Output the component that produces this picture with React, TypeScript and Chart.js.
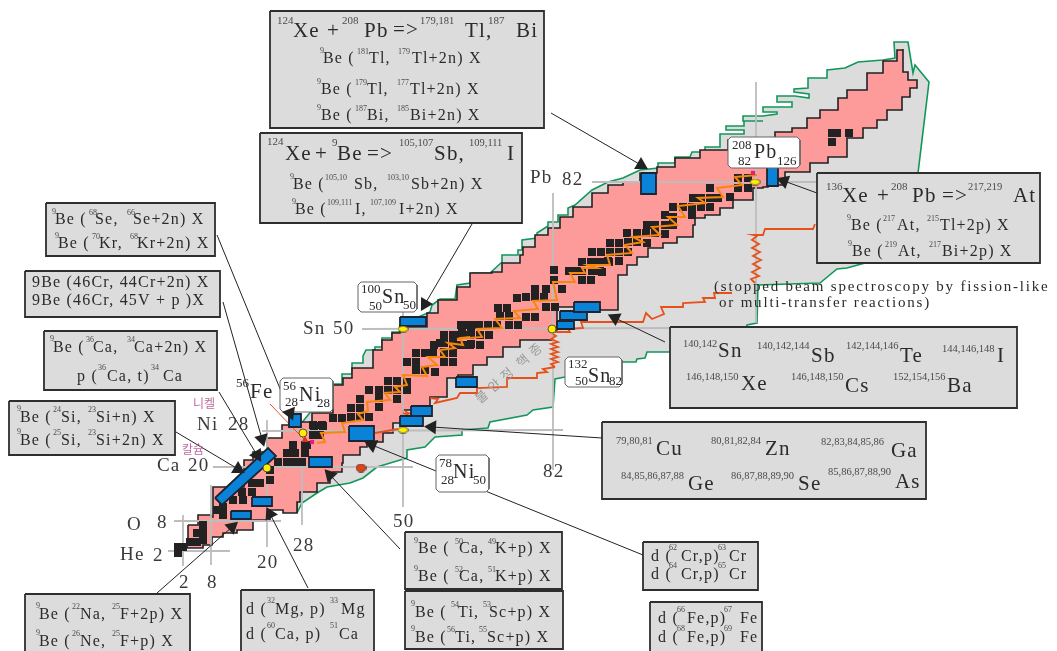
import React, { useEffect, useRef } from "react";
import { Chart, registerables } from "chart.js";
Chart.register(...registerables);

type P = [number, number];
type T = [number, number, number, string, number?, number?];

const GRAY_REGION: P[] = [[297,513],[300,425],[333,384],[342,384],[342,374],[352,374],[352,363],[363,363],[363,356],[366,350],[375,350],[375,347],[382,347],[382,338],[392,338],[392,332],[400,332],[400,325],[430,312],[432,305],[440,299],[455,299],[457,285],[470,283],[472,273],[490,273],[502,262],[502,255],[518,255],[518,250],[522,250],[522,240],[537,238],[537,233],[548,226],[548,222],[558,222],[558,215],[568,215],[568,208],[575,205],[592,190],[608,182],[623,178],[640,170],[658,168],[658,163],[675,163],[675,157],[690,157],[692,152],[705,152],[705,147],[720,147],[720,134],[744,134],[744,130],[726,130],[726,126],[744,126],[744,121],[763,121],[743,121],[743,116],[763,116],[777,114],[777,112],[763,112],[763,107],[792,107],[792,102],[777,102],[777,96],[795,96],[809,98],[809,94],[794,92],[794,89],[808,88],[808,78],[827,78],[827,70],[845,68],[858,62],[883,60],[895,58],[894,42],[908,42],[913,73],[915,65],[929,82],[918,173],[895,250],[865,263],[847,268],[837,269],[820,283],[758,285],[757,323],[747,325],[745,332],[669,352],[647,352],[645,358],[637,359],[636,362],[623,362],[565,377],[555,379],[553,407],[533,410],[527,415],[490,422],[488,428],[462,430],[462,435],[435,437],[425,447],[407,450],[407,458],[377,467],[363,478],[350,483],[327,487],[317,493],[302,503],[297,513]];

const PINK_REGION: P[] = [[188,525],[198,515],[211,517],[213,487],[227,487],[244,460],[253,452],[267,438],[282,425],[290,422],[312,413],[333,405],[333,385],[343,378],[352,368],[373,350],[382,347],[382,340],[392,333],[400,327],[427,313],[438,300],[457,293],[457,287],[470,283],[470,273],[492,272],[502,263],[520,255],[523,247],[535,235],[548,228],[560,217],[573,207],[592,193],[608,185],[623,182],[640,173],[657,167],[675,158],[700,150],[728,140],[775,132],[792,128],[807,118],[820,110],[838,98],[847,90],[867,73],[883,61],[897,58],[897,50],[903,49],[903,72],[908,80],[917,82],[917,88],[910,97],[902,110],[887,120],[877,128],[863,138],[847,145],[847,157],[828,163],[810,172],[785,185],[768,187],[763,188],[753,200],[733,208],[720,215],[705,218],[695,225],[693,237],[677,243],[663,248],[648,257],[637,265],[627,275],[618,282],[618,310],[600,307],[557,330],[553,340],[533,340],[520,347],[503,357],[487,365],[473,375],[458,378],[447,397],[430,410],[403,423],[393,433],[383,442],[367,447],[360,455],[343,463],[342,472],[333,473],[330,483],[317,492],[300,502],[297,513],[283,510],[277,510],[270,520],[255,520],[253,530],[237,533],[223,537],[212,545],[203,548],[187,540],[188,525]];

const MAGIC_LINES: [P, P][] = [
  [[168,551],[230,551]],[[174,521],[281,521]],[[213,467],[413,467]],[[262,431],[563,430]],[[362,329],[670,328]],[[592,182],[817,182]],
  [[183,515],[183,566]],[[211,485],[211,565]],[[267,420],[267,547]],[[302,427],[302,525]],[[403,312],[403,507]],[[553,193],[553,470]],[[756,82],[756,323]],
];

const NUCLEI_A: P[] = [[178,547],[178,553],[183,547],[190,542],[197,533],[197,542],[203,540],[203,532],[203,525],[217,510],[223,515],[223,507],[233,500],[243,500],[242,492],[252,483],[252,492],[260,483],[270,470],[270,480],[293,445],[287,453],[295,453],[278,462],[287,462],[295,462],[302,462],[305,453],[305,445],[313,425],[322,425],[313,435],[320,435],[307,445]];
const NUCLEI_B: P[] = [[314,426],[323,426],[333,418],[342,418],[351,408],[360,408],[351,417],[360,417],[369,417],[360,399],[369,390],[379,390],[379,398],[379,407],[388,381],[397,381],[388,390],[397,390],[407,390],[407,382],[397,399],[416,353],[407,362],[416,362],[425,353],[433,353],[416,370],[425,370],[435,372],[434,345],[444,362],[453,362],[444,353],[453,353],[444,343],[461,325],[470,325],[461,335],[470,335],[470,345],[478,325],[461,345],[444,335]];
const NUCLEI_C: P[] = [[462,325],[471,325],[479,325],[488,325],[497,325],[509,325],[518,325],[500,316],[509,316],[526,317],[535,317],[498,308],[507,308],[517,298],[526,297],[535,297],[544,297],[535,289],[546,289],[562,289],[554,280],[554,270],[546,307],[555,307],[569,271],[574,271],[582,271],[582,280],[591,280],[582,262],[591,262],[601,252],[601,262],[609,262],[602,272],[444,335],[453,335],[462,333]];
const NUCLEI_D: P[] = [[444,343],[453,343],[462,333],[471,333],[444,352],[453,352],[440,343],[464,345],[489,335],[480,335],[444,353],[453,344],[471,344],[480,345]];
const NUCLEI_E: P[] = [[592,252],[601,252],[610,243],[619,243],[627,233],[610,252],[619,252],[628,252],[619,261],[600,271],[592,271],[600,262],[592,262],[608,261],[637,233],[646,233],[655,233],[647,225],[647,243],[665,234],[628,242],[637,242],[655,225],[665,225],[673,225],[665,215],[673,207],[673,217],[683,207],[692,207],[692,215],[701,207],[710,207],[693,198],[701,198],[710,198],[718,198],[710,188],[730,197],[738,178],[748,178],[748,188],[738,188],[832,133],[837,133],[832,142],[849,133]];

const ORANGE_PATH: P[] = [[317,443],[325,442],[321,433],[345,432],[342,423],[363,420],[358,414],[368,411],[367,402],[390,400],[385,393],[400,392],[395,387],[407,385],[403,375],[427,376],[422,367],[437,365],[428,357],[445,357],[440,350],[455,348],[448,343],[463,345],[460,338],[470,337],[457,339],[482,337],[477,329],[502,328],[495,319],[520,318],[514,311],[538,309],[533,301],[557,300],[553,282],[575,282],[570,273],[585,273],[582,268],[597,268],[588,265],[610,265],[607,255],[632,253],[625,245],[643,242],[633,237],[660,235],[652,227],[677,225],[668,217],[685,217],[678,206],[705,203],[698,198],[723,197],[717,188],[742,185],[735,177],[757,175]];

const RED_LOW: P[] = [[403,413],[408,415],[406,412],[411,414]];
const RED_MID: P[] = [[430,398],[438,399],[435,403],[457,398],[460,393],[477,393],[477,388],[507,387],[507,378],[537,378],[537,373],[547,372],[543,369],[555,367]];
const RED_STUB: P[] = [[375,433],[398,429]];
const RED_RISE_A: P[] = [[555,367],[551,364],[558,362],[551,359],[558,357],[551,354],[558,352],[551,349],[558,347],[551,344],[558,342],[551,339],[556,336],[553,334]];
const RED_UPPER: P[] = [[555,332],[570,332],[568,329],[583,328],[581,322],[643,322],[646,313],[652,319],[664,314],[661,307],[683,307],[683,303],[705,302],[703,298],[715,298],[714,293],[732,293]];
const RED_RISE_B: P[] = [[755,283],[751,279],[759,276],[752,272],[760,268],[753,264],[761,260],[753,256],[760,252],[752,248],[759,244],[752,240],[757,236],[753,235],[763,235],[765,229],[813,229],[815,224]];

const BLUE_TILTED: P[] = [[215,498],[268,448],[276,456],[222,505],[215,498]];
const BLUE_BOXES: number[][] = [[231,511,251,519],[252,497,272,506],[309,457,332,467],[289,414,301,427],[349,426,374,441],[400,317,426,326],[400,416,423,426],[411,406,432,416],[456,377,477,387],[557,321,574,329],[560,311,587,320],[574,302,600,312],[641,173,656,194],[767,165,778,186]];

const YELLOW_WIDE: P[] = [[403,329],[403,430],[755,182]];
const YELLOW_ROUND: P[] = [[552,329],[303,433],[267,468]];
const RED_DOT: P[] = [[361,468]];
const MAGENTA_DOTS: P[] = [[312,442],[753,173]];
const FE_POINTER: P[] = [[270,404],[293,428],[305,440]];

const GRAY_BOXES: number[][] = [[270,11,544,128],[260,133,522,223],[46,203,215,256],[25,271,220,317],[44,331,217,390],[9,401,175,455],[817,173,1040,263],[670,327,1017,408],[602,422,926,499],[405,532,562,589],[405,591,563,649],[643,542,758,590],[650,602,762,656],[241,590,374,656],[25,594,190,656]];
const WHITE_BOXES: number[][] = [[280,378,333,412],[358,282,417,312],[565,357,622,387],[436,455,489,492],[728,137,800,168]];

const ARROWS: number[][] = [[551,113,641,165],[472,224,425,304],[217,235,290,413],[223,302,262,439],[219,392,257,455],[176,432,238,469],[157,593,232,527],[308,588,270,514],[400,549,330,475],[643,555,372,445],[602,438,432,427],[665,342,615,318],[817,193,784,181]];

const TEXT_HEADERS: T[] = [
  [277,24,11,"124"],[293,37,21,"Xe"],[327,37,21,"+"],[342,24,11,"208"],[364,37,21,"Pb"],[393,36,21,"=>"],[420,24,10.5,"179,181"],[465,37,21,"Tl,"],[488,24,11,"187"],[516,37,21,"Bi"],
  [267,145,11,"124"],[285,160,21,"Xe"],[315,160,21,"+"],[332,146,11,"9"],[337,160,21,"Be"],[367,160,21,"=>"],[399,146,10.5,"105,107"],[434,160,21,"Sb,"],[469,146,10.5,"109,111"],[507,160,21,"I"],
  [826,190,11,"136"],[842,202,21,"Xe"],[877,202,21,"+"],[891,190,11,"208"],[912,202,21,"Pb"],[942,202,21,"=>"],[968,190,10.5,"217,219"],[1013,202,21,"At"],
];
const TEXT_BE_LINES: T[] = [
  [320,53,8,"9"],[323,63,16,"Be ("],[357,54,8,"181"],[369,63,16,"Tl,"],[398,54,8,"179"],[412,63,16,"Tl+2n) X"],
  [317,84,8,"9"],[321,94,16,"Be ("],[355,85,8,"179"],[367,94,16,"Tl,"],[397,85,8,"177"],[410,94,16,"Tl+2n) X"],
  [317,110,8,"9"],[321,120,16,"Be ("],[355,111,8,"187"],[367,120,16,"Bi,"],[397,111,8,"185"],[410,120,16,"Bi+2n) X"],
  [290,179,8,"9"],[293,189,16,"Be ("],[325,180,8,"105,10"],[354,189,16,"Sb,"],[387,180,8,"103,10"],[411,189,16,"Sb+2n) X"],
  [292,204,8,"9"],[295,214,16,"Be ("],[327,205,8,"109,111"],[355,214,16,"I,"],[370,205,8,"107,109"],[399,214,16,"I+2n) X"],
  [52,214,8,"9"],[55,224,16,"Be ("],[89,215,8,"68"],[95,224,16,"Se,"],[127,215,8,"66"],[133,224,16,"Se+2n) X"],
  [55,238,8,"9"],[58,248,16,"Be ("],[92,239,8,"70"],[99,248,16,"Kr,"],[130,239,8,"68"],[137,248,16,"Kr+2n) X"],
  [32,287,16,"9Be (46Cr, 44Cr+2n) X"],[32,305,16,"9Be (46Cr, 45V + p )X"],
  [50,341,8,"9"],[53,352,16,"Be ("],[86,342,8,"36"],[93,352,16,"Ca,"],[127,342,8,"34"],[134,352,16,"Ca+2n) X"],
  [77,381,16,"p ("],[98,370,8,"36"],[107,381,16,"Ca, t)"],[151,370,8,"34"],[163,381,16,"Ca"],
  [17,411,8,"9"],[20,422,16,"Be ("],[53,412,8,"24"],[61,422,16,"Si,"],[88,412,8,"23"],[96,422,16,"Si+n) X"],
  [17,434,8,"9"],[20,445,16,"Be ("],[53,435,8,"25"],[61,445,16,"Si,"],[88,435,8,"23"],[96,445,16,"Si+2n) X"],
  [847,220,8,"9"],[851,230,16,"Be ("],[883,221,8,"217"],[897,230,16,"At,"],[927,221,8,"215"],[940,230,16,"Tl+2p) X"],
  [848,246,8,"9"],[852,256,16,"Be ("],[885,247,8,"219"],[898,256,16,"At,"],[929,247,8,"217"],[942,256,16,"Bi+2p) X"],
  [414,543,8,"9"],[418,553,16,"Be ("],[455,544,8,"50"],[459,553,16,"Ca,"],[488,544,8,"49"],[495,553,16,"K+p) X"],
  [414,571,8,"9"],[418,581,16,"Be ("],[455,572,8,"52"],[459,581,16,"Ca,"],[488,572,8,"51"],[495,581,16,"K+p) X"],
  [411,606,8,"9"],[415,617,16,"Be ("],[451,607,8,"54"],[458,617,16,"Ti,"],[483,607,8,"53"],[489,617,16,"Sc+p) X"],
  [411,631,8,"9"],[415,642,16,"Be ("],[447,632,8,"56"],[455,642,16,"Ti,"],[479,632,8,"55"],[487,642,16,"Sc+p) X"],
  [651,561,16,"d ("],[669,550,8,"62"],[681,561,16,"Cr,p)"],[718,550,8,"63"],[729,561,16,"Cr"],
  [651,579,16,"d ("],[669,568,8,"64"],[681,579,16,"Cr,p)"],[718,568,8,"65"],[729,579,16,"Cr"],
  [658,623,16,"d ("],[677,612,8,"66"],[687,623,16,"Fe,p)"],[724,612,8,"67"],[740,623,16,"Fe"],
  [658,642,16,"d ("],[677,631,8,"68"],[687,642,16,"Fe,p)"],[724,631,8,"69"],[740,642,16,"Fe"],
  [246,614,16,"d ("],[267,603,8,"32"],[275,614,16,"Mg, p)"],[330,603,8,"33"],[341,614,16,"Mg"],
  [246,639,16,"d ("],[267,628,8,"60"],[275,639,16,"Ca, p)"],[330,628,8,"51"],[339,639,16,"Ca"],
  [36,608,8,"9"],[39,619,16,"Be ("],[72,609,8,"22"],[80,619,16,"Na,"],[112,609,8,"25"],[120,619,16,"F+2p) X"],
  [36,635,8,"9"],[39,646,16,"Be ("],[72,636,8,"26"],[80,646,16,"Ne,"],[112,636,8,"25"],[120,646,16,"F+p) X"],
];
const TEXT_ISOTOPE_LISTS: T[] = [
  [683,347,10.5,"140,142"],[718,357,21,"Sn"],[757,349,10.5,"140,142,144"],[811,362,21,"Sb"],[846,349,10.5,"142,144,146"],[900,362,21,"Te"],[942,352,10.5,"144,146,148"],[997,362,21,"I"],
  [686,380,10.5,"146,148,150"],[741,390,21,"Xe"],[791,380,10.5,"146,148,150"],[845,392,21,"Cs"],[893,380,10.5,"152,154,156"],[947,392,21,"Ba"],
  [616,444,10.5,"79,80,81"],[656,455,21,"Cu"],[711,444,10.5,"80,81,82,84"],[765,455,21,"Zn"],[821,445,10.5,"82,83,84,85,86"],[891,457,21,"Ga"],
  [621,479,10.5,"84,85,86,87,88"],[688,490,21,"Ge"],[731,479,10.5,"86,87,88,89,90"],[798,490,21,"Se"],[828,475,10.5,"85,86,87,88,90"],[895,488,21,"As"],
];
const TEXT_NUCLIDES: T[] = [
  [283,390,13,"56"],[285,406,13,"28"],[299,401,20,"Ni"],[317,407,13,"28"],
  [361,293,13,"100"],[369,310,13,"50"],[382,303,20,"Sn"],[403,309,13,"50"],
  [568,368,13,"132"],[575,385,13,"50"],[588,382,20,"Sn"],[609,385,13,"82"],
  [439,467,13,"78"],[441,484,13,"28"],[453,478,20,"Ni"],[473,484,13,"50"],
  [732,149,13,"208"],[738,165,13,"82"],[754,158,20,"Pb"],[777,165,13,"126"],
  [236,387,13,"56"],[250,398,21,"Fe"],
];
const TEXT_AXES: T[] = [
  [197,430,19,"Ni"],[228,430,19,"28"],[157,471,19,"Ca"],[188,471,19,"20"],[127,530,19,"O"],[157,528,19,"8"],[120,560,19,"He"],[153,561,19,"2"],
  [179,588,19,"2"],[207,588,19,"8"],[257,568,19,"20"],[293,551,19,"28"],[393,527,19,"50"],[543,477,19,"82"],[303,334,19,"Sn"],[333,334,19,"50"],[530,183,19,"Pb"],[562,185,19,"82"],
];
const TEXT_NOTE: T[] = [
  [714,291,15,"(stopped beam spectroscopy by fission-like",1.8],[719,307,15,"or multi-transfer reactions)",1.8],
];
const TEXT_KOREAN: T[] = [
  [193,408,12,"니켈"],[182,454,12,"칼슘"],
];
const TEXT_ROTATED: T[] = [
  [480,404,13,"불 안 정  핵 종",1,-41],
];

const xy = (pts: P[]) => pts.map(([x, y]) => ({ x, y }));
const rectPts = (b: number[]): P[] => [[b[0],b[1]],[b[2],b[1]],[b[2],b[3]],[b[0],b[3]],[b[0],b[1]]];
const roundPts = (b: number[], r = 3): P[] => [[b[0]+r,b[1]],[b[2]-r,b[1]],[b[2],b[1]+r],[b[2],b[3]-r],[b[2]-r,b[3]],[b[0]+r,b[3]],[b[0],b[3]-r],[b[0],b[1]+r],[b[0]+r,b[1]]];

const INK = "#2b2b2b";
const line = (pts: P[], color: string, width: number, extra: any = {}) => ({ data: xy(pts), showLine: true, borderColor: color, borderWidth: width, pointRadius: 0, fill: false, tension: 0, ...extra });
const poly = (pts: P[], color: string, stroke: string, width: number, extra: any = {}) => line(pts, stroke, width, { fill: "shape", backgroundColor: color, borderJoinStyle: "miter", ...extra });
const dots = (pts: P[], style: any, radius: number, fillC: string, stroke = fillC, width = 0, extra: any = {}) => ({ data: xy(pts), showLine: false, pointStyle: style, pointRadius: radius, pointBackgroundColor: fillC, pointBorderColor: stroke, pointBorderWidth: width, ...extra });

function ellipseImage(w: number, h: number, fillC: string) {
  const c = document.createElement("canvas");
  c.width = w; c.height = h;
  const g = c.getContext("2d")!;
  g.fillStyle = fillC; g.strokeStyle = "#333"; g.lineWidth = 0.8;
  g.beginPath(); g.ellipse(w / 2, h / 2, w / 2 - 0.5, h / 2 - 0.5, 0, 0, Math.PI * 2); g.fill(); g.stroke();
  return c;
}

const textPlugin = {
  id: "diagramText",
  afterDatasetsDraw(chart: any) {
    const { ctx, scales } = chart;
    const draw = (items: T[], face: string, color?: string, clipRight?: number) => {
      for (const [x, y, size, str, ls, rot] of items) {
        ctx.save();
        if (clipRight) {
          ctx.beginPath();
          ctx.rect(0, 0, scales.x.getPixelForValue(clipRight), chart.height);
          ctx.clip();
        }
        ctx.fillStyle = color ?? (size <= 11 ? "#4a4a4a" : INK);
        ctx.font = `${size}px ${face}`;
        (ctx as any).letterSpacing = `${ls ?? (size >= 14 ? 1.2 : 0)}px`;
        ctx.textBaseline = "alphabetic";
        ctx.translate(scales.x.getPixelForValue(x), scales.y.getPixelForValue(y));
        if (rot) ctx.rotate((rot * Math.PI) / 180);
        ctx.fillText(str, 0, 0);
        ctx.restore();
      }
    };
    const serif = '"Liberation Serif"';
    draw(TEXT_HEADERS, serif);
    draw(TEXT_BE_LINES, serif);
    draw(TEXT_ISOTOPE_LISTS, serif);
    draw(TEXT_NUCLIDES, serif);
    draw(TEXT_AXES, serif, "#3a3a3a");
    draw(TEXT_NOTE, serif, undefined, 1050);
    draw(TEXT_KOREAN, '"Noto Sans CJK KR"', "#c06aa0");
    draw(TEXT_ROTATED, '"Noto Sans CJK KR"', "#9a9a9a");
  },
};

export default function App() {
  const ref = useRef<HTMLCanvasElement>(null);
  useEffect(() => {
    const layers: any[] = [
      poly(GRAY_REGION, "#dcdcdc", "#12975a", 1.6),
      poly(PINK_REGION, "#fd9b9b", "#222222", 1.6, { stepped: true }),
      ...MAGIC_LINES.map((l) => line(l, "#bdbdbd", 1.8)),
      dots(NUCLEI_A, "rect", 5.7, "#222222"),
      dots(NUCLEI_B, "rect", 5.7, "#222222"),
      dots(NUCLEI_C, "rect", 5.7, "#222222"),
      dots(NUCLEI_D, "rect", 5.7, "#222222"),
      dots(NUCLEI_E, "rect", 5.7, "#222222"),
      line(ORANGE_PATH, "#f5870c", 2),
      line(RED_LOW, "#e8501a", 1.8),
      line(RED_MID, "#e8501a", 1.8),
      line(RED_STUB, "#e8501a", 1.8),
      line(RED_RISE_A, "#e8501a", 1.8),
      line(RED_UPPER, "#e8501a", 1.8),
      line(RED_RISE_B, "#e8501a", 1.8),
      line(FE_POINTER, "#e8501a", 1),
      dots([FE_POINTER[2]], "triangle", 4, "#e8301a"),
      poly(BLUE_TILTED, "#0a82d8", "#1c2430", 1.8),
      ...BLUE_BOXES.map((b) => poly(rectPts(b), "#0a82d8", "#1c2430", 1.8)),
      dots(MAGENTA_DOTS, "rect", 3, "#e0207a"),
      dots(YELLOW_WIDE, ellipseImage(11, 7, "#ffee00"), 5, "#ffee00"),
      dots(YELLOW_ROUND, "circle", 4, "#ffee00", "#333333", 0.8),
      dots(RED_DOT, ellipseImage(11, 9, "#e0401a"), 5, "#e0401a"),
      ...ARROWS.map((a) => line([[a[0], a[1]], [a[2], a[3]]], "#222222", 1)),
      ...WHITE_BOXES.map((b) => poly(roundPts(b), "#ffffff", "#666666", 1)),
      ...GRAY_BOXES.map((b) => poly(rectPts(b), "#dcdcdc", "#2e2e2e", 1.8)),
      dots(ARROWS.map((a) => [a[2], a[3]] as P), "triangle", 8, "#222222", "#222222", 0, {
        pointRotation: ARROWS.map((a) => (Math.atan2(a[2] - a[0], a[1] - a[3]) * 180) / Math.PI),
      }),
    ];
    layers.forEach((d, i) => (d.order = layers.length - i));

    const chart = new Chart(ref.current!, {
      type: "scatter",
      data: { datasets: layers },
      plugins: [textPlugin],
      options: {
        animation: false,
        responsive: false,
        layout: { padding: 0, autoPadding: false },
        scales: {
          x: { type: "linear", display: false, min: 0, max: 1057 },
          y: { type: "linear", display: false, min: 0, max: 651, reverse: true },
        },
        plugins: { legend: { display: false }, tooltip: { enabled: false }, filler: { drawTime: "beforeDatasetDraw" } },
      },
    } as any);
    return () => chart.destroy();
  }, []);
  return <canvas ref={ref} width={1057} height={651} style={{ position: "absolute", left: 0, top: 0, display: "block" }} />;
}
